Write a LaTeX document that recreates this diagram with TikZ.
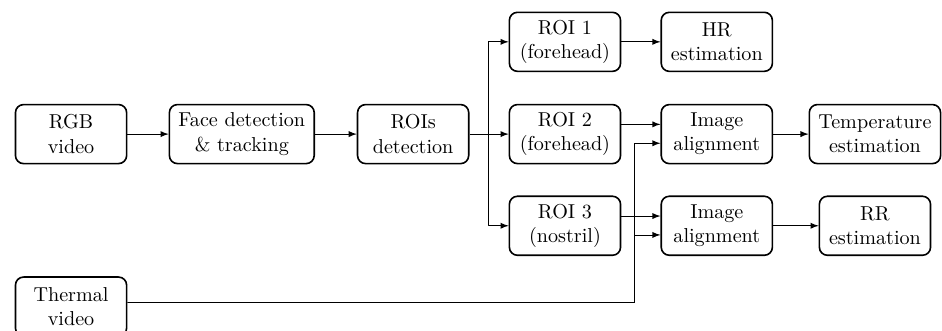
\documentclass[tikz,border=0pt]{standalone}
\begin{document}
\begin{tikzpicture}[line join=round,>=latex,
	block/.style={draw,thick,rounded corners=4pt,align=center,
		minimum width=1.94cm,minimum height=1.03cm,inner xsep=4.5pt}]
	\useasboundingbox (0,0) rectangle (16.44,-5.76);
	
	% RGB branch
	\node[block] (rgb) at (1.24,-2.34) {RGB\\video};
	\node[block] (face) at (4.22,-2.34) {Face detection\\\& tracking};
	\node[block] (rois) at (7.21,-2.34) {ROIs\\detection};
	
	\node[block] (roi1) at (9.86,-0.73) {ROI 1\\(forehead)};
	\node[block] (roi2) at (9.86,-2.34) {ROI 2\\(forehead)};
	\node[block] (roi3) at (9.86,-3.94) {ROI 3\\(nostril)};
	
	\node[block] (hr) at (12.51,-0.73) {HR\\estimation};
	\node[block] (align1) at (12.51,-2.34) {Image\\alignment};
	\node[block] (align2) at (12.51,-3.94) {Image\\alignment};
	
	\node[block] (temp) at (15.27,-2.34) {Temperature\\estimation};
	\node[block] (rr) at (15.27,-3.94) {RR\\estimation};
	
	% thermal branch
	\node[block] (thermal) at (1.24,-5.35) {Thermal\\video};
	
	\path
	(8.53,-2.34) coordinate (split)
	(11.08,-5.28) coordinate (tjoin);
	
	\draw[->] (rgb) -- (face);
	\draw[->] (face) -- (rois);
	\draw (rois.east) -- (split);
	\foreach \r in {roi1,roi2,roi3} {
		\draw[->] (split) |- (\r.west);
	}
	\draw[->] (roi1) -- (hr);
	\draw[->] ([yshift=0.17cm]roi2.east) -- ([yshift=0.17cm]align1.west);
	\draw[->] ([yshift=0.17cm]roi3.east) -- ([yshift=0.17cm]align2.west);
	
	\draw ([yshift=0.07cm]thermal.east) -- (tjoin);
	\draw[->] (tjoin) |- ([yshift=-0.16cm]align1.west);
	\draw[->] (tjoin) |- ([yshift=-0.16cm]align2.west);
	
	\draw[->] (align1) -- (temp);
	\draw[->] (align2) -- (rr);
	
\end{tikzpicture}
\end{document}
